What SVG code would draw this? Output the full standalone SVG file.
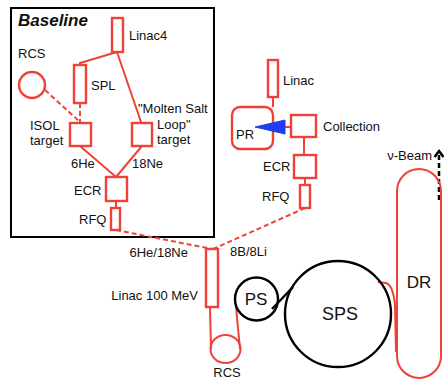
<svg xmlns="http://www.w3.org/2000/svg" width="444" height="382" viewBox="0 0 444 382">
<style>
.r{fill:none;stroke:#ee4238;stroke-width:2.4}
.l{fill:none;stroke:#ee4238;stroke-width:2}
.d{fill:none;stroke:#ee4238;stroke-width:2;stroke-dasharray:5,3}
.k{fill:none;stroke:#000;stroke-width:2.4}
text{font-family:"Liberation Sans",Arial,sans-serif;font-size:13px;fill:#111}
.big{font-size:17px}
</style>
<rect width="444" height="382" fill="#fff"/>
<g id="baseline-box">
<rect x="11" y="8" width="203" height="229" fill="none" stroke="#000" stroke-width="2"/>
<text x="18" y="26" style="font-size:17px;font-weight:bold;font-style:italic">Baseline</text>
</g>
<g id="connectors">
<path class="l" d="M117,52 L80,63 L80,65"/>
<path class="l" d="M117,52 L141,122"/>
<path class="d" d="M45,90 L80,122"/>
<path class="d" d="M80,103 L80,122"/>
<path class="l" d="M80,146 L116,177"/>
<path class="l" d="M142,146 L116,177"/>
<path class="l" d="M116,201 L116,208"/>
<path class="d" d="M116,230 L212,249"/>
<path class="d" d="M305,208 L213,249"/>
<path class="l" d="M273,97 L273,107"/>
<path class="l" d="M285,127 L291,127"/>
<path class="l" d="M304,137 L304,155"/>
<path class="l" d="M305,178 L305,185"/>
<path class="l" d="M210,307 L211,349"/>
<path class="l" d="M236,307 L240,349"/>
<path class="k" d="M272,309 L293,287"/>
<path class="l" d="M378,282 L386,283 Q393,285 395,305 L396,352"/>
<path d="M439,200 L439,153" fill="none" stroke="#000" stroke-width="2.5" stroke-dasharray="5,3"/>
<path d="M434.5,157 L439,151 L443.5,157" fill="none" stroke="#000" stroke-width="2.5"/>
</g>
<g id="linac4"><rect class="r" x="112" y="18" width="11" height="34"/><text x="129" y="40">Linac4</text></g>
<g id="rcs-top"><circle class="r" cx="32" cy="85" r="13"/><text x="18" y="58">RCS</text></g>
<g id="spl"><rect class="r" x="74" y="65" width="12" height="38"/><text x="91" y="90">SPL</text></g>
<g id="isol"><rect class="r" x="70" y="123" width="21" height="23"/><text x="30" y="130">ISOL</text><text x="30" y="145">target</text></g>
<g id="molten"><rect class="r" x="132" y="123" width="20" height="23"/><text x="138" y="113">"Molten Salt</text><text x="157" y="129">Loop"</text><text x="157" y="144">target</text></g>
<g id="labels-ions"><text x="71" y="168">6He</text><text x="132" y="168">18Ne</text></g>
<g id="ecr1"><rect class="r" x="106" y="177" width="21" height="24"/><text x="74" y="195">ECR</text></g>
<g id="rfq1"><rect class="r" x="111" y="208" width="9" height="22"/><text x="79" y="224">RFQ</text></g>
<g id="linac-r"><rect class="r" x="268" y="60" width="10" height="37"/><text x="283" y="85">Linac</text></g>
<g id="pr"><rect class="r" x="232" y="107" width="41" height="42" rx="8"/><text x="236" y="139">PR</text></g>
<polygon points="255,127 285,120 285,134" fill="#1e3cf0" stroke="#1e3cf0" stroke-width="1"/>
<g id="collection"><rect class="r" x="291" y="115" width="25" height="22"/><text x="323" y="131">Collection</text></g>
<g id="ecr2"><rect class="r" x="294" y="155" width="22" height="23"/><text x="263" y="171">ECR</text></g>
<g id="rfq2"><rect class="r" x="300" y="185" width="10" height="23"/><text x="262" y="201">RFQ</text></g>
<g id="linac100"><rect class="r" x="206" y="249" width="12" height="58"/><text x="198" y="300" text-anchor="end">Linac 100 MeV</text></g>
<text x="188" y="257" text-anchor="end">6He/18Ne</text>
<text x="230" y="256">8B/8Li</text>
<g id="rcs-bottom"><ellipse class="l" cx="225.5" cy="349" rx="15" ry="14"/><text x="227" y="377" text-anchor="middle">RCS</text></g>
<g id="ps"><circle class="k" cx="256.5" cy="299" r="21.5"/><text class="big" x="256" y="305" text-anchor="middle">PS</text></g>
<g id="sps"><circle class="k" cx="338" cy="314" r="53"/><text x="340" y="320" text-anchor="middle" style="font-size:18px">SPS</text></g>
<g id="dr"><rect x="397" y="169" width="44" height="209" rx="22" fill="none" stroke="#ee4238" stroke-width="2"/><text class="big" x="419" y="288" text-anchor="middle">DR</text></g>
<text x="432" y="160" text-anchor="end">ν-Beam</text>
</svg>
